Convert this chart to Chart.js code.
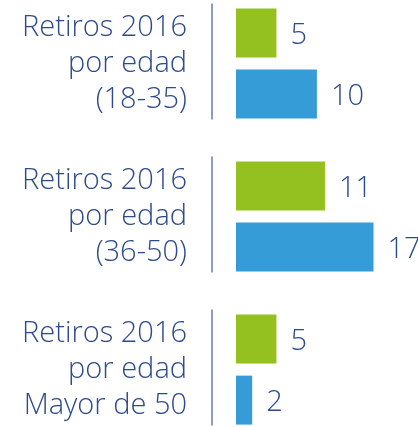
<!DOCTYPE html>
<html>
<head>
<meta charset="utf-8">
<script src="https://cdn.jsdelivr.net/npm/chart.js@4"></script>
<style>
  html, body { margin:0; padding:0; background:#fff; overflow:hidden; width:418px; height:427px; }
  #wrap { position:absolute; left:0; top:-13px; width:418px; height:459px; }
</style>
</head>
<body>
<div id="wrap"><canvas id="c"></canvas></div>
<script>
const categories = [
  ["Retiros 2016", "por edad", "(18-35)"],
  ["Retiros 2016", "por edad", "(36-50)"],
  ["Retiros 2016", "por edad", "Mayor de 50"]
];
const greenValues = [5, 11, 5];
const blueValues = [10, 17, 2];
const xMax = 22.5;

const TEXT = '#2d4a8a';
const FONT = '"Open Sans", "Noto Sans", sans-serif';

const separatorPlugin = {
  id: 'separators',
  afterDraw(chart) {
    const ctx = chart.ctx;
    const ys = chart.scales.y;
    const x = chart.chartArea.left - 24;
    ctx.save();
    ctx.strokeStyle = '#8a9cc8';
    ctx.lineWidth = 2;
    categories.forEach((_, i) => {
      const y = ys.getPixelForValue(i);
      ctx.beginPath();
      ctx.moveTo(x, y - 60);
      ctx.lineTo(x, y + 56);
      ctx.stroke();
    });
    ctx.restore();
  }
};

const labelPlugin = {
  id: 'valueLabels',
  afterDatasetsDraw(chart) {
    const ctx = chart.ctx;
    ctx.save();
    ctx.fillStyle = TEXT;
    ctx.font = '300 29px ' + FONT;
    ctx.textAlign = 'left';
    ctx.textBaseline = 'middle';
    chart.data.datasets.forEach((ds, di) => {
      const meta = chart.getDatasetMeta(di);
      meta.data.forEach((el, i) => {
        ctx.fillText(String(ds.data[i]), el.x + 14, el.y + 3);
      });
    });
    ctx.restore();
  }
};

new Chart(document.getElementById('c'), {
  type: 'bar',
  data: {
    labels: categories,
    datasets: [
      { data: greenValues, backgroundColor: '#94c11f', categoryPercentage: 0.8, barPercentage: 0.8 },
      { data: blueValues, backgroundColor: '#359cd8', categoryPercentage: 0.8, barPercentage: 0.8 }
    ]
  },
  options: {
    indexAxis: 'y',
    responsive: true,
    maintainAspectRatio: false,
    animation: false,
    layout: { padding: 0 },
    plugins: { legend: { display: false }, tooltip: { enabled: false } },
    scales: {
      x: { display: false, min: 0, max: xMax },
      y: {
        grid: { display: false, drawTicks: false },
        border: { display: false },
        ticks: {
          color: TEXT,
          padding: 49,
          font: { family: FONT, size: 29, weight: 300, lineHeight: 1.25 }
        },
        afterFit(scale) {
          scale.width = 236;
          scale.paddingTop = 0;
          scale.paddingBottom = 0;
        }
      }
    }
  },
  plugins: [separatorPlugin, labelPlugin]
});
</script>
</body>
</html>
